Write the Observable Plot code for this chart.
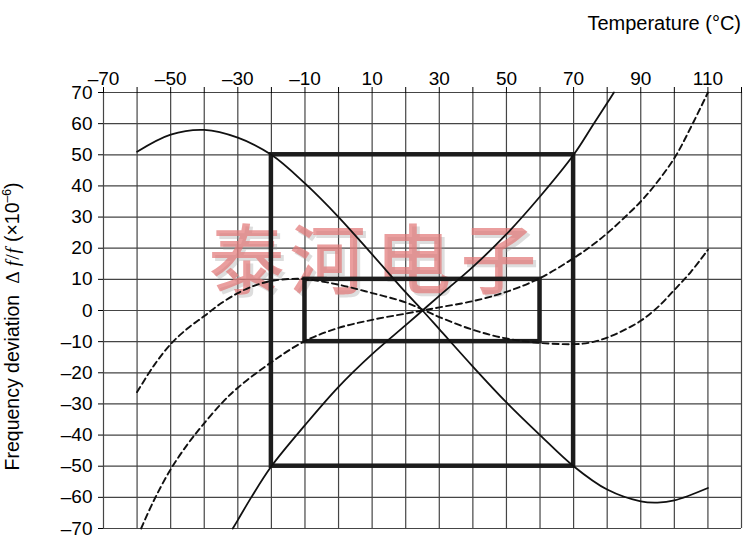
<!DOCTYPE html>
<html>
<head>
<meta charset="utf-8">
<script src="https://cdn.jsdelivr.net/npm/d3@7"></script>
<script src="https://cdn.jsdelivr.net/npm/@observablehq/plot@0.6"></script>
<style>
  html, body { margin: 0; padding: 0; background: #fff; }
</style>
</head>
<body>
<div id="chart"></div>
<script>
// Grid / tick values
const gridX = [-70, -60, -50, -40, -30, -20, -10, 0, 10, 20, 30, 40, 50, 60, 70, 80, 90, 100, 110, 120];
const gridY = [-70, -60, -50, -40, -30, -20, -10, 0, 10, 20, 30, 40, 50, 60, 70];
const xLabels = [-70, -50, -30, -10, 10, 30, 50, 70, 90, 110];

// Solid curve A (falling)
const ax = [-60, -50, -40, -30, -20, -10, 0, 10, 20, 25, 30, 40, 50, 60, 70, 80, 90, 95, 100, 110];
const ay = [51, 56.5, 58, 55.5, 50, 40.8, 30, 18, 5.8, 0, -6, -18, -29.5, -40, -50, -57.5, -61.3, -61.7, -61, -57];

// Solid curve B (rising)
const bx = [-31.5, -30, -26, -20, -10, 0, 10, 20, 25, 30, 40, 50, 60, 70, 76, 80, 82];
const by = [-70, -67.3, -60, -50, -36.8, -24.5, -14, -4.7, 0, 4.7, 14, 24.5, 36.6, 50, 60, 66.6, 70];

// Dashed curve C (small swing)
const cx = [-60, -55, -50, -45, -40, -35, -30, -25, -20, -15, -10, 0, 10, 20, 25, 30, 40, 50, 60, 70, 75, 80, 85, 90, 95, 100, 105, 110];
const cy = [-26.2, -17.7, -10.8, -5.8, -1.8, 2.3, 5.6, 8, 9.5, 10.1, 10.1, 8.3, 5.6, 2.6, 0.3, -2.1, -6.2, -9, -10.4, -10.8, -10.3, -8.7, -6.3, -3.3, 1, 6.6, 12.5, 19.5];

// Dashed curve D (large swing)
const dxs = [-58.8, -55, -50, -45, -41, -35, -30, -20, -10, 0, 10, 20, 25, 30, 40, 50, 60, 70, 75, 80, 85, 90, 94, 100, 105, 110];
const dys = [-70, -61, -51, -43, -37.5, -30, -24.8, -16.6, -9.8, -5.6, -3, -1, 0, 1, 3, 6, 10.4, 16.8, 20.5, 24.8, 29.7, 35, 40, 48.9, 59, 70];

// Tolerance boxes
const boxX1 = [-20, -10];
const boxX2 = [70, 60];
const boxY1 = [-50, -10];
const boxY2 = [50, 10];

// Watermark
const wmChars = ["泰", "河", "电", "子"];
const wmX = [-27.4, -3.3, 22.3, 47.6];
const wmY = 15;

const pts = (xs, ys) => xs.map((x, i) => ({x, y: ys[i]}));
const boxes = boxX1.map((x1, i) => ({x1, x2: boxX2[i], y1: boxY1[i], y2: boxY2[i]}));
const wm = wmChars.map((c, i) => ({c, x: wmX[i], y: wmY}));
const fmt = d => d < 0 ? "\u2013" + Math.abs(d) : String(d);

const gridStyle = {stroke: "#454545", strokeWidth: 1.2};

const chart = Plot.plot({
  width: 747,
  height: 543,
  marginTop: 92,
  marginRight: 6,
  marginBottom: 15,
  marginLeft: 103,
  style: {fontFamily: '"Liberation Sans", Arial, Helvetica, sans-serif', fontSize: "19px", background: "#fff", color: "#000"},
  x: {domain: [-70, 120]},
  y: {domain: [-70, 70]},
  marks: [
    Plot.ruleX(gridX, gridStyle),
    Plot.ruleY(gridY, gridStyle),
    Plot.text(wm, {x: "x", y: "y", text: "c", fontSize: 76, fontFamily: '"Noto Sans CJK SC"', fontWeight: 500, fill: "#e27878", fillOpacity: 0.72, className: "watermark"}),
    Plot.rect(boxes, {x1: "x1", x2: "x2", y1: "y1", y2: "y2", fill: "none", stroke: "#1c1c1c", strokeWidth: 4.5}),
    Plot.line(pts(ax, ay), {x: "x", y: "y", curve: "catmull-rom", stroke: "#111", strokeWidth: 1.8}),
    Plot.line(pts(bx, by), {x: "x", y: "y", curve: "catmull-rom", stroke: "#111", strokeWidth: 1.8}),
    Plot.line(pts(cx, cy), {x: "x", y: "y", curve: "catmull-rom", stroke: "#111", strokeWidth: 1.9, strokeDasharray: "6,4"}),
    Plot.line(pts(dxs, dys), {x: "x", y: "y", curve: "catmull-rom", stroke: "#111", strokeWidth: 1.9, strokeDasharray: "6,4"}),
    Plot.axisX(gridX, {anchor: "top", tickSize: 6, tickPadding: 2, tickFormat: d => xLabels.includes(d) ? fmt(d) : "", label: null}),
    Plot.axisY(gridY, {anchor: "left", tickSize: 5, tickPadding: 6, tickFormat: fmt, label: null})
  ]
});

document.getElementById("chart").appendChild(chart);

// Soft grey drop shadow on the watermark (no duplicated text)
d3.select(chart).selectAll(".watermark")
  .style("filter", "drop-shadow(3px 3px 0px rgba(150,150,150,0.45))");

const xs = chart.scale("x");
const ys = chart.scale("y");

// x-axis title, top right
d3.select(chart).append("text")
  .attr("x", xs.apply(120))
  .attr("y", 30)
  .attr("text-anchor", "end")
  .attr("font-family", '"Liberation Sans", Arial, sans-serif')
  .attr("font-size", 20)
  .attr("fill", "#000")
  .text("Temperature (°C)");

// Rotated y-axis title with italic f and superscript exponent
const t = d3.select(chart).append("text")
  .attr("transform", `translate(19,${ys.apply(-5.3)}) rotate(-90)`)
  .attr("text-anchor", "middle")
  .attr("font-family", '"Liberation Sans", Arial, sans-serif')
  .attr("font-size", 19.5)
  .attr("fill", "#000");
t.append("tspan").text("Frequency deviation");
t.append("tspan").attr("dx", 11).attr("font-family", '"Liberation Serif", serif').text("Δ");
t.append("tspan").attr("dx", 5).attr("font-family", '"Liberation Serif", serif').attr("font-style", "italic").text("f");
t.append("tspan").attr("dx", 1).attr("font-family", '"Liberation Serif", serif').text("/");
t.append("tspan").attr("dx", 1).attr("font-family", '"Liberation Serif", serif').attr("font-style", "italic").text("f");
t.append("tspan").attr("dx", 6).text("(×10");
t.append("tspan").attr("dy", -8).attr("font-size", 12).text("\u20136");
t.append("tspan").attr("dy", 8).text(")");
</script>
</body>
</html>
